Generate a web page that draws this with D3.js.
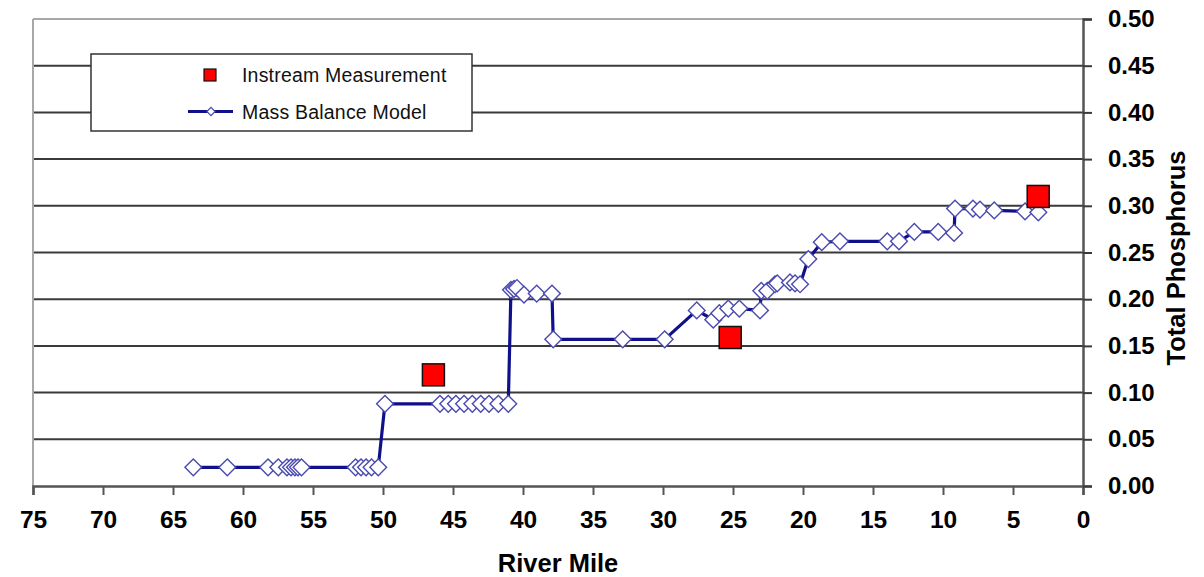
<!DOCTYPE html>
<html>
<head>
<meta charset="utf-8">
<script src="https://cdn.jsdelivr.net/npm/d3@7"></script>
<style>
  html, body { margin: 0; padding: 0; background: #fff; }
  svg { display: block; font-family: "Liberation Sans", Arial, sans-serif; }
</style>
</head>
<body>
<svg id="chart" width="1204" height="577"></svg>
<script>
// Mass balance model: river mile and total phosphorus (mg/L)
const modelMiles = [
  63.55, 61.12, 58.21, 57.48, 56.86, 56.57, 56.29, 56.07, 55.82,
  51.96, 51.57, 51.21, 50.82, 50.34,
  49.86, 45.93, 45.34, 44.79, 44.21, 43.62, 43.02, 42.43, 41.76, 41.05,
  40.86, 40.64, 40.43, 39.93, 39.02, 37.93,
  37.84, 32.88, 29.88,
  27.59, 26.41, 25.98, 25.34, 24.55, 23.07,
  22.98, 22.55, 22.00, 21.84, 20.93, 20.57, 20.21,
  19.62, 18.66, 17.36, 13.98, 13.14,
  12.05, 10.34, 9.21,
  9.14, 7.86, 7.36, 6.34, 4.14, 3.19
];
const modelTP = [
  0.020, 0.020, 0.020, 0.020, 0.020, 0.020, 0.020, 0.020, 0.020,
  0.020, 0.020, 0.020, 0.020, 0.020,
  0.088, 0.088, 0.088, 0.088, 0.088, 0.088, 0.088, 0.088, 0.088, 0.088,
  0.210, 0.211, 0.212, 0.205, 0.206, 0.206,
  0.157, 0.157, 0.157,
  0.188, 0.178, 0.185, 0.190, 0.190, 0.188,
  0.209, 0.209, 0.216, 0.217, 0.218, 0.217, 0.216,
  0.243, 0.261, 0.262, 0.262, 0.262,
  0.272, 0.272, 0.271,
  0.297, 0.297, 0.296, 0.295, 0.294, 0.293
];

// Instream measurements
const measuredMiles = [46.4, 25.2, 3.2];
const measuredTP = [0.119, 0.159, 0.310];

// Axis ticks
const xTicks = [75, 70, 65, 60, 55, 50, 45, 40, 35, 30, 25, 20, 15, 10, 5, 0];
const yTicks = [0, 0.05, 0.10, 0.15, 0.20, 0.25, 0.30, 0.35, 0.40, 0.45, 0.50];

const legendLabels = ["Instream Measurement", "Mass Balance Model"];
const xTitle = "River Mile";
const yTitle = "Total Phosphorus";

const svg = d3.select("#chart");
const plotLeft = 33, plotRight = 1083, plotTop = 19, plotBottom = 486;

const x = d3.scaleLinear().domain([75, 0]).range([plotLeft, plotRight]);
const y = d3.scaleLinear().domain([0, 0.5]).range([plotBottom, plotTop]);

// Horizontal gridlines
svg.append("g")
  .selectAll("line")
  .data(yTicks.filter(t => t > 0 && t < 0.5))
  .join("line")
  .attr("x1", plotLeft).attr("x2", plotRight)
  .attr("y1", d => y(d)).attr("y2", d => y(d))
  .attr("stroke", "#3a3a3a").attr("stroke-width", 2);

// Plot frame: light top and left edges
svg.append("line").attr("x1", plotLeft).attr("x2", plotRight).attr("y1", plotTop).attr("y2", plotTop)
  .attr("stroke", "#a8a8a8").attr("stroke-width", 2);
svg.append("line").attr("x1", plotLeft).attr("x2", plotLeft).attr("y1", plotTop).attr("y2", plotBottom)
  .attr("stroke", "#a8a8a8").attr("stroke-width", 2);

// Bottom x axis
const xAxis = d3.axisBottom(x).tickValues(xTicks).tickSize(9).tickPadding(16)
  .tickFormat(d3.format("d"));
const gx = svg.append("g").attr("transform", `translate(0,${plotBottom})`).call(xAxis);
gx.select(".domain").attr("stroke", "#555").attr("stroke-width", 2.5);
gx.selectAll(".tick line").attr("stroke", "#555").attr("stroke-width", 2);
gx.selectAll(".tick text")
  .attr("fill", "#000").attr("font-size", 24.5).attr("font-weight", "bold")
  .attr("font-family", "Liberation Sans, Arial, sans-serif");

// Right y axis
const yAxis = d3.axisRight(y).tickValues(yTicks).tickSize(9).tickPadding(16)
  .tickFormat(d3.format(".2f"));
const gy = svg.append("g").attr("transform", `translate(${plotRight},0)`).call(yAxis);
gy.select(".domain").attr("stroke", "#555").attr("stroke-width", 2.5);
gy.selectAll(".tick line").attr("stroke", "#3a3a3a").attr("stroke-width", 2);
gy.selectAll(".tick text")
  .attr("fill", "#000").attr("font-size", 24).attr("font-weight", "bold")
  .attr("font-family", "Liberation Sans, Arial, sans-serif");

// Axis titles
svg.append("text")
  .attr("x", 558).attr("y", 572)
  .attr("text-anchor", "middle")
  .attr("font-size", 25.5).attr("font-weight", "bold")
  .text(xTitle);
svg.append("text")
  .attr("transform", `translate(1185,258) rotate(-90)`)
  .attr("text-anchor", "middle")
  .attr("font-size", 25.5).attr("font-weight", "bold")
  .text(yTitle);

// Model line
const modelData = modelMiles.map((m, i) => ({ m, v: modelTP[i] }));
const line = d3.line().x(d => x(d.m)).y(d => y(d.v));
svg.append("path")
  .datum(modelData)
  .attr("d", line)
  .attr("fill", "none")
  .attr("stroke", "#10108a")
  .attr("stroke-width", 3.2)
  .attr("stroke-linejoin", "round");

// Model markers (open diamonds)
const diamond = d3.symbol().type(d3.symbolSquare).size(140);
svg.append("g")
  .selectAll("path")
  .data(modelData)
  .join("path")
  .attr("d", diamond)
  .attr("transform", d => `translate(${x(d.m)},${y(d.v)}) rotate(45)`)
  .attr("fill", "#fff")
  .attr("stroke", "#4a4ab0")
  .attr("stroke-width", 1.4);

// Measured values (red squares)
const measuredData = measuredMiles.map((m, i) => ({ m, v: measuredTP[i] }));
const sq = 22;
svg.append("g")
  .selectAll("rect")
  .data(measuredData)
  .join("rect")
  .attr("x", d => x(d.m) - sq / 2)
  .attr("y", d => y(d.v) - sq / 2)
  .attr("width", sq).attr("height", sq)
  .attr("fill", "#ff0000")
  .attr("stroke", "#111")
  .attr("stroke-width", 1.5);

// Legend
const lg = svg.append("g");
lg.append("rect")
  .attr("x", 91).attr("y", 54).attr("width", 381).attr("height", 77)
  .attr("fill", "#fff").attr("stroke", "#333").attr("stroke-width", 1.5);
lg.append("rect")
  .attr("x", 204).attr("y", 69).attr("width", 12).attr("height", 12)
  .attr("fill", "#ff0000").attr("stroke", "#111").attr("stroke-width", 1.2);
lg.append("line")
  .attr("x1", 188).attr("x2", 233).attr("y1", 111.5).attr("y2", 111.5)
  .attr("stroke", "#10108a").attr("stroke-width", 3);
lg.append("path")
  .attr("d", d3.symbol().type(d3.symbolSquare).size(34)())
  .attr("transform", "translate(211,111.5) rotate(45)")
  .attr("fill", "#fff").attr("stroke", "#4a4ab0").attr("stroke-width", 1.2);
lg.selectAll("text.lab")
  .data(legendLabels)
  .join("text")
  .attr("class", "lab")
  .attr("x", 242)
  .attr("y", (d, i) => 82 + i * 37)
  .attr("font-size", 19.5)
  .attr("letter-spacing", 0.2)
  .attr("fill", "#111")
  .text(d => d);
</script>
</body>
</html>
